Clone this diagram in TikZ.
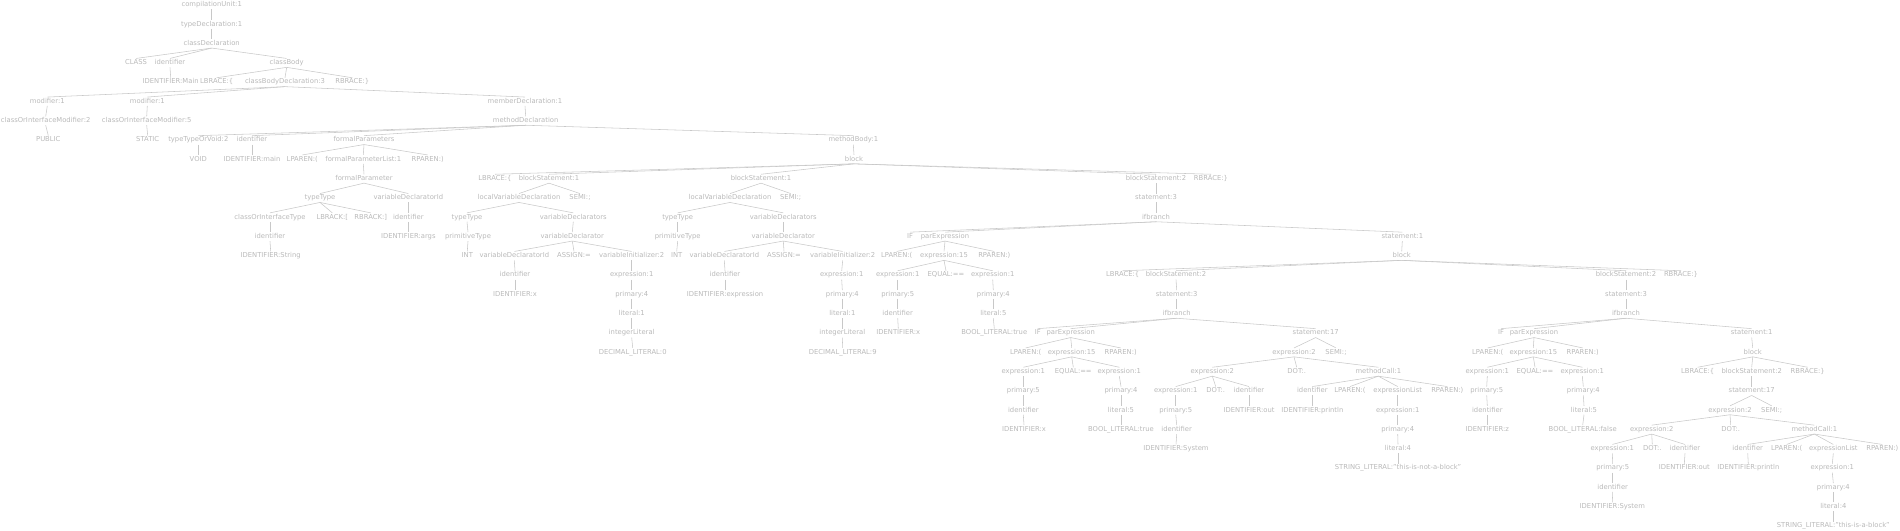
\documentclass[tikz,border=0pt]{standalone}
\usepackage{fontspec}
\setmainfont{DejaVu Sans}
\definecolor{txtc}{RGB}{185,185,185}
\definecolor{linc}{RGB}{200,200,200}
\tikzset{
  t/.style={font=\fontsize{6.8}{8}\selectfont, text=txtc, inner sep=1pt, text height=5pt, text depth=1.5pt, anchor=center},
  e/.style={draw=linc, line width=0.55pt}
}
\begin{document}
\begin{tikzpicture}[x=1pt, y=-19.3pt]
\useasboundingbox (0,-0.259) rectangle (1900,27.202);
% row 0-4
\node[t] (cu) at (211.7,0) {compilationUnit:1};
\node[t] (td) at (211.7,1) {typeDeclaration:1};
\node[t] (cd) at (211.7,2) {classDeclaration};
\node[t] (cls) at (136,3) {CLASS};
\node[t] (cid) at (170,3) {identifier};
\node[t] (cb) at (286.7,3) {classBody};
\node[t] (cidT) at (170.7,4) {IDENTIFIER:Main};
\node[t] (cbL) at (216.7,4) {LBRACE:\{};
\node[t] (cbd) at (285,4) {classBodyDeclaration:3};
\node[t] (cbR) at (352.3,4) {RBRACE:\}};
% row 5-8
\node[t] (mod1) at (47.3,5) {modifier:1};
\node[t] (mod2) at (147.3,5) {modifier:1};
\node[t] (memd) at (525,5) {memberDeclaration:1};
\node[t] (com1) at (45.7,6) {classOrInterfaceModifier:2};
\node[t] (com2) at (146.7,6) {classOrInterfaceModifier:5};
\node[t] (md) at (525.7,6) {methodDeclaration};
\node[t] (pub) at (48.3,7) {PUBLIC};
\node[t] (sta) at (147.7,7) {STATIC};
\node[t] (tv) at (198.3,7) {typeTypeOrVoid:2};
\node[t] (mid) at (252,7) {identifier};
\node[t] (fps) at (364,7) {formalParameters};
\node[t] (mb) at (853.3,7) {methodBody:1};
\node[t] (void) at (198.3,8) {VOID};
\node[t] (midT) at (252,8) {IDENTIFIER:main};
\node[t] (fpL) at (302.3,8) {LPAREN:(};
\node[t] (fpl) at (363.3,8) {formalParameterList:1};
\node[t] (fpR) at (427.7,8) {RPAREN:)};
\node[t] (blk) at (854,8) {block};
% row 9
\node[t] (fp) at (364,9) {formalParameter};
\node[t] (bL) at (495,9) {LBRACE:\{};
\node[t] (bs1) at (549,9) {blockStatement:1};
\node[t] (bs2) at (761,9) {blockStatement:1};
\node[t] (bs3) at (1156,9) {blockStatement:2};
\node[t] (bR) at (1211,9) {RBRACE:\}};
% row 10
\node[t] (ftt) at (320,10) {typeType};
\node[t] (fvdi) at (408.3,10) {variableDeclaratorId};
\node[t] (lvd1) at (519,10) {localVariableDeclaration};
\node[t] (semi1) at (580,10) {SEMI:;};
\node[t] (lvd2) at (730,10) {localVariableDeclaration};
\node[t] (semi2) at (790.7,10) {SEMI:;};
\node[t] (st3) at (1156,10) {statement:3};
% row 11
\node[t] (coit) at (270,11) {classOrInterfaceType};
\node[t] (lbk) at (332.3,11) {LBRACK:[};
\node[t] (rbk) at (370.7,11) {RBRACK:]};
\node[t] (fid) at (408.3,11) {identifier};
\node[t] (tt1) at (467,11) {typeType};
\node[t] (vds1) at (573.3,11) {variableDeclarators};
\node[t] (tt2) at (677.7,11) {typeType};
\node[t] (vds2) at (783.3,11) {variableDeclarators};
\node[t] (ifb1) at (1156,11) {ifbranch};
% row 12
\node[t] (coid) at (270,12) {identifier};
\node[t] (fidT) at (408.3,12) {IDENTIFIER:args};
\node[t] (pt1) at (468,12) {primitiveType};
\node[t] (vd1) at (572.3,12) {variableDeclarator};
\node[t] (pt2) at (677.7,12) {primitiveType};
\node[t] (vd2) at (783.3,12) {variableDeclarator};
\node[t] (if1) at (910,12) {IF};
\node[t] (pe1) at (945,12) {parExpression};
\node[t] (st1a) at (1402.3,12) {statement:1};
% row 13
\node[t] (coidT) at (270.7,13) {IDENTIFIER:String};
\node[t] (int1) at (467.3,13) {INT};
\node[t] (vdi1) at (514.3,13) {variableDeclaratorId};
\node[t] (as1) at (574,13) {ASSIGN:=};
\node[t] (vi1) at (631.7,13) {variableInitializer:2};
\node[t] (int2) at (676.7,13) {INT};
\node[t] (vdi2) at (724.3,13) {variableDeclaratorId};
\node[t] (as2) at (784,13) {ASSIGN:=};
\node[t] (vi2) at (842.7,13) {variableInitializer:2};
\node[t] (lp1) at (896.7,13) {LPAREN:(};
\node[t] (ex15a) at (944,13) {expression:15};
\node[t] (rp1) at (994.3,13) {RPAREN:)};
\node[t] (blk2) at (1401.7,13) {block};
% row 14
\node[t] (vdid1) at (515,14) {identifier};
\node[t] (e1a) at (631.7,14) {expression:1};
\node[t] (vdid2) at (725,14) {identifier};
\node[t] (e1b) at (841.7,14) {expression:1};
\node[t] (e1c) at (897.7,14) {expression:1};
\node[t] (eqa) at (946,14) {EQUAL:==};
\node[t] (e1d) at (992.7,14) {expression:1};
\node[t] (bL2) at (1122.7,14) {LBRACE:\{};
\node[t] (bs4) at (1176,14) {blockStatement:2};
\node[t] (bs5) at (1626,14) {blockStatement:2};
\node[t] (bR2) at (1681,14) {RBRACE:\}};
% row 15
\node[t] (vdidT1) at (515,15) {IDENTIFIER:x};
\node[t] (p4a) at (631.7,15) {primary:4};
\node[t] (vdidT2) at (725,15) {IDENTIFIER:expression};
\node[t] (p4b) at (842.3,15) {primary:4};
\node[t] (p5a) at (897.7,15) {primary:5};
\node[t] (p4c) at (993.3,15) {primary:4};
\node[t] (st3b) at (1176.7,15) {statement:3};
\node[t] (st3c) at (1626,15) {statement:3};
% row 16
\node[t] (l1a) at (631.7,16) {literal:1};
\node[t] (l1b) at (842.3,16) {literal:1};
\node[t] (ida) at (897.7,16) {identifier};
\node[t] (l5a) at (993.3,16) {literal:5};
\node[t] (ifb2) at (1176.7,16) {ifbranch};
\node[t] (ifb3) at (1626,16) {ifbranch};
% row 17
\node[t] (il1) at (631.7,17) {integerLiteral};
\node[t] (il2) at (842.3,17) {integerLiteral};
\node[t] (idaT) at (898.3,17) {IDENTIFIER:x};
\node[t] (bla) at (994.3,17) {BOOL\_LITERAL:true};
\node[t] (if2) at (1037.7,17) {IF};
\node[t] (pe2) at (1070.7,17) {parExpression};
\node[t] (st17a) at (1315.7,17) {statement:17};
\node[t] (if3) at (1501,17) {IF};
\node[t] (pe3) at (1534,17) {parExpression};
\node[t] (st1b) at (1751.7,17) {statement:1};
% row 18
\node[t] (dl0) at (632.7,18) {DECIMAL\_LITERAL:0};
\node[t] (dl9) at (842.7,18) {DECIMAL\_LITERAL:9};
\node[t] (lp2) at (1025.7,18) {LPAREN:(};
\node[t] (ex15b) at (1071.7,18) {expression:15};
\node[t] (rp2) at (1120.7,18) {RPAREN:)};
\node[t] (ex2a) at (1294,18) {expression:2};
\node[t] (semi3) at (1336,18) {SEMI:;};
\node[t] (lp3) at (1487.7,18) {LPAREN:(};
\node[t] (ex15c) at (1533.3,18) {expression:15};
\node[t] (rp3) at (1582.7,18) {RPAREN:)};
\node[t] (blk3) at (1752.7,18) {block};
% row 19
\node[t] (e1e) at (1023.3,19) {expression:1};
\node[t] (eqb) at (1073.3,19) {EQUAL:==};
\node[t] (e1f) at (1119.3,19) {expression:1};
\node[t] (ex2b) at (1212.3,19) {expression:2};
\node[t] (dot1) at (1296.7,19) {DOT:.};
\node[t] (mc1) at (1378.3,19) {methodCall:1};
\node[t] (e1g) at (1487.3,19) {expression:1};
\node[t] (eqc) at (1535,19) {EQUAL:==};
\node[t] (e1h) at (1582.3,19) {expression:1};
\node[t] (bL3) at (1697.7,19) {LBRACE:\{};
\node[t] (bs6) at (1751.7,19) {blockStatement:2};
\node[t] (bR3) at (1807.7,19) {RBRACE:\}};
% row 20
\node[t] (p5b) at (1023.3,20) {primary:5};
\node[t] (p4d) at (1121,20) {primary:4};
\node[t] (e1i) at (1175.7,20) {expression:1};
\node[t] (dot2) at (1215.7,20) {DOT:.};
\node[t] (idb) at (1249,20) {identifier};
\node[t] (idc) at (1312.3,20) {identifier};
\node[t] (lp4) at (1350,20) {LPAREN:(};
\node[t] (el1) at (1397.7,20) {expressionList};
\node[t] (rp4) at (1447.3,20) {RPAREN:)};
\node[t] (p5c) at (1486.7,20) {primary:5};
\node[t] (p4e) at (1583.3,20) {primary:4};
\node[t] (st17b) at (1751.7,20) {statement:17};
% row 21
\node[t] (idd) at (1023.3,21) {identifier};
\node[t] (l5b) at (1121,21) {literal:5};
\node[t] (p5d) at (1175.7,21) {primary:5};
\node[t] (idbT) at (1249,21) {IDENTIFIER:out};
\node[t] (idcT) at (1312.3,21) {IDENTIFIER:println};
\node[t] (e1j) at (1397.7,21) {expression:1};
\node[t] (ide) at (1487.3,21) {identifier};
\node[t] (l5c) at (1584,21) {literal:5};
\node[t] (ex2c) at (1730,21) {expression:2};
\node[t] (semi4) at (1771.7,21) {SEMI:;};
% row 22
\node[t] (iddT) at (1024,22) {IDENTIFIER:x};
\node[t] (blb) at (1121,22) {BOOL\_LITERAL:true};
\node[t] (idf) at (1176.7,22) {identifier};
\node[t] (p4f) at (1397.7,22) {primary:4};
\node[t] (ideT) at (1487.3,22) {IDENTIFIER:z};
\node[t] (blc) at (1582.7,22) {BOOL\_LITERAL:false};
\node[t] (ex2d) at (1651.7,22) {expression:2};
\node[t] (dot3) at (1730.7,22) {DOT:.};
\node[t] (mc2) at (1814.3,22) {methodCall:1};
% row 23
\node[t] (idfT) at (1176,23) {IDENTIFIER:System};
\node[t] (l4a) at (1398,23) {literal:4};
\node[t] (e1k) at (1612.3,23) {expression:1};
\node[t] (dot4) at (1652.3,23) {DOT:.};
\node[t] (idg) at (1685,23) {identifier};
\node[t] (idh) at (1747.7,23) {identifier};
\node[t] (lp5) at (1786.7,23) {LPAREN:(};
\node[t] (el2) at (1833.3,23) {expressionList};
\node[t] (rp5) at (1882.3,23) {RPAREN:)};
% row 24-27
\node[t] (sla) at (1398,24) {STRING\_LITERAL:"this-is-not-a-block"};
\node[t] (p5e) at (1612.7,24) {primary:5};
\node[t] (idgT) at (1684.3,24) {IDENTIFIER:out};
\node[t] (idhT) at (1748.3,24) {IDENTIFIER:println};
\node[t] (e1l) at (1832.3,24) {expression:1};
\node[t] (idi) at (1612.7,25) {identifier};
\node[t] (p4g) at (1833.3,25) {primary:4};
\node[t] (idiT) at (1612.3,26) {IDENTIFIER:System};
\node[t] (l4b) at (1833.3,26) {literal:4};
\node[t] (slb) at (1833.3,27) {STRING\_LITERAL:"this-is-a-block"};
% edges
\foreach \a/\b in {cu/td, td/cd, cd/cls, cd/cid, cd/cb, cid/cidT, cb/cbL, cb/cbd, cb/cbR,
  cbd/mod1, cbd/mod2, cbd/memd, mod1/com1, mod2/com2, memd/md, com1/pub, com2/sta,
  md/tv, md/mid, md/fps, md/mb, tv/void, mid/midT, fps/fpL, fps/fpl, fps/fpR, mb/blk,
  fpl/fp, blk/bL, blk/bs1, blk/bs2, blk/bs3, blk/bR, fp/ftt, fp/fvdi,
  bs1/lvd1, bs1/semi1, bs2/lvd2, bs2/semi2, bs3/st3,
  ftt/coit, ftt/lbk, ftt/rbk, fvdi/fid, lvd1/tt1, lvd1/vds1, lvd2/tt2, lvd2/vds2, st3/ifb1,
  coit/coid, fid/fidT, tt1/pt1, vds1/vd1, tt2/pt2, vds2/vd2, ifb1/if1, ifb1/pe1, ifb1/st1a,
  coid/coidT, pt1/int1, vd1/vdi1, vd1/as1, vd1/vi1, pt2/int2, vd2/vdi2, vd2/as2, vd2/vi2,
  pe1/lp1, pe1/ex15a, pe1/rp1, st1a/blk2,
  vdi1/vdid1, vi1/e1a, vdi2/vdid2, vi2/e1b, ex15a/e1c, ex15a/eqa, ex15a/e1d,
  blk2/bL2, blk2/bs4, blk2/bs5, blk2/bR2,
  vdid1/vdidT1, e1a/p4a, vdid2/vdidT2, e1b/p4b, e1c/p5a, e1d/p4c, bs4/st3b, bs5/st3c,
  p4a/l1a, p4b/l1b, p5a/ida, p4c/l5a, st3b/ifb2, st3c/ifb3,
  l1a/il1, l1b/il2, ida/idaT, l5a/bla, ifb2/if2, ifb2/pe2, ifb2/st17a, ifb3/if3, ifb3/pe3, ifb3/st1b,
  il1/dl0, il2/dl9, pe2/lp2, pe2/ex15b, pe2/rp2, st17a/ex2a, st17a/semi3,
  pe3/lp3, pe3/ex15c, pe3/rp3, st1b/blk3,
  ex15b/e1e, ex15b/eqb, ex15b/e1f, ex2a/ex2b, ex2a/dot1, ex2a/mc1,
  ex15c/e1g, ex15c/eqc, ex15c/e1h, blk3/bL3, blk3/bs6, blk3/bR3,
  e1e/p5b, e1f/p4d, ex2b/e1i, ex2b/dot2, ex2b/idb, mc1/idc, mc1/lp4, mc1/el1, mc1/rp4,
  e1g/p5c, e1h/p4e, bs6/st17b,
  p5b/idd, p4d/l5b, e1i/p5d, idb/idbT, idc/idcT, el1/e1j, p5c/ide, p4e/l5c, st17b/ex2c, st17b/semi4,
  idd/iddT, l5b/blb, p5d/idf, e1j/p4f, ide/ideT, l5c/blc, ex2c/ex2d, ex2c/dot3, ex2c/mc2,
  idf/idfT, p4f/l4a, ex2d/e1k, ex2d/dot4, ex2d/idg, mc2/idh, mc2/lp5, mc2/el2, mc2/rp5,
  l4a/sla, e1k/p5e, idg/idgT, idh/idhT, el2/e1l,
  p5e/idi, e1l/p4g, idi/idiT, p4g/l4b, l4b/slb}
  \draw[e] (\a.south) -- (\b.north);
\end{tikzpicture}
\end{document}
